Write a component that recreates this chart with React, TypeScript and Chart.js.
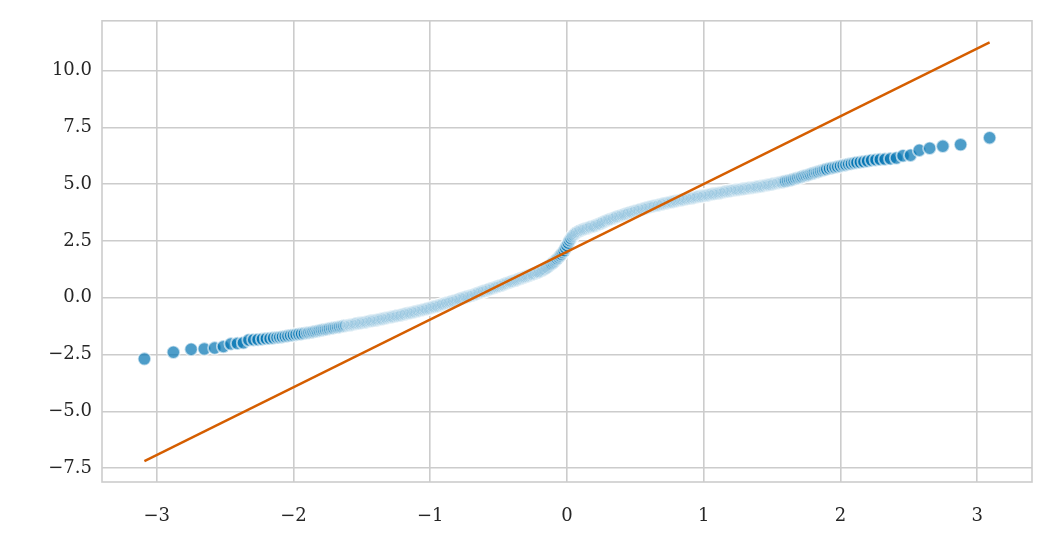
import React, { useEffect, useRef } from "react";
import { Chart, registerables } from "chart.js";

Chart.register(...registerables);

// Theoretical quantiles (x) and ordered sample values (y)
const lowTailX = [-3.09, -2.878, -2.748, -2.652, -2.576, -2.512, -2.457, -2.409, -2.366, -2.326, -2.291, -2.259, -2.227, -2.198, -2.171, -2.145];
const lowTailY = [-2.69, -2.4, -2.27, -2.25, -2.21, -2.15, -2.03, -2.01, -1.98, -1.86, -1.85, -1.84, -1.82, -1.8, -1.79, -1.77];

const lowBandX = [
  -2.12, -2.1, -2.08, -2.06, -2.04, -2.02, -2.0, -1.98, -1.96, -1.94, -1.92,
  -1.9, -1.885, -1.87, -1.855, -1.84, -1.825, -1.81, -1.795, -1.78, -1.765, -1.75, -1.735, -1.72, -1.705, -1.69, -1.675, -1.66, -1.645, -1.63, -1.615,
  -1.6, -1.59, -1.58, -1.57, -1.56, -1.55, -1.54, -1.53, -1.52, -1.51, -1.5, -1.49, -1.48, -1.47, -1.46, -1.45, -1.44, -1.43, -1.42, -1.41,
  -1.4, -1.39, -1.38, -1.37, -1.36, -1.35, -1.34, -1.33, -1.32, -1.31, -1.3, -1.29, -1.28, -1.27, -1.26, -1.25, -1.24, -1.23, -1.22, -1.21,
];
const lowBandY = [
  -1.75, -1.74, -1.72, -1.7, -1.68, -1.66, -1.64, -1.62, -1.6, -1.59, -1.57,
  -1.55, -1.535, -1.52, -1.5, -1.48, -1.465, -1.445, -1.425, -1.41, -1.395, -1.38, -1.36, -1.34, -1.325, -1.31, -1.295, -1.28, -1.26, -1.24, -1.225,
  -1.21, -1.2, -1.19, -1.18, -1.17, -1.155, -1.14, -1.13, -1.12, -1.11, -1.1, -1.09, -1.08, -1.07, -1.06, -1.045, -1.03, -1.02, -1.01, -1.0,
  -0.99, -0.98, -0.97, -0.955, -0.94, -0.93, -0.92, -0.905, -0.89, -0.88, -0.87, -0.855, -0.84, -0.83, -0.82, -0.805, -0.79, -0.78, -0.77, -0.755,
];

const midBandX = [
  -1.2, -1.19, -1.18, -1.17, -1.16, -1.15, -1.14, -1.13, -1.12, -1.11, -1.1, -1.09, -1.08, -1.07, -1.06, -1.05, -1.04, -1.03, -1.02, -1.01,
  -1.0, -0.99, -0.98, -0.97, -0.96, -0.95, -0.94, -0.93, -0.92, -0.91, -0.9, -0.89, -0.88, -0.87, -0.86, -0.85, -0.84, -0.83, -0.82, -0.81,
  -0.8, -0.79, -0.78, -0.77, -0.76, -0.75, -0.74, -0.73, -0.72, -0.71, -0.7, -0.69, -0.68, -0.67, -0.66, -0.65, -0.64, -0.63, -0.62, -0.61,
  -0.6, -0.59, -0.58, -0.57, -0.56, -0.55, -0.54, -0.53, -0.52, -0.51, -0.5, -0.49, -0.48, -0.47, -0.46, -0.45, -0.44, -0.43, -0.42, -0.41,
  -0.4, -0.39, -0.38, -0.37, -0.36, -0.35, -0.34, -0.33, -0.32, -0.31, -0.3, -0.29, -0.28, -0.27, -0.26, -0.25, -0.24, -0.23, -0.22, -0.21,
  -0.2, -0.19, -0.18, -0.17, -0.16, -0.15, -0.14, -0.13, -0.12, -0.11, -0.1, -0.09, -0.08, -0.07, -0.06, -0.05, -0.04, -0.03, -0.02, -0.01,
  0.0, 0.01, 0.02, 0.03, 0.04, 0.05, 0.06, 0.07, 0.08, 0.09, 0.1, 0.11, 0.12, 0.13, 0.14, 0.15, 0.16, 0.17, 0.18, 0.19,
  0.2, 0.21, 0.22, 0.23, 0.24, 0.25, 0.26, 0.27, 0.28, 0.29, 0.3, 0.31, 0.32, 0.33, 0.34, 0.35, 0.36, 0.37, 0.38, 0.39,
  0.4, 0.41, 0.42, 0.43, 0.44, 0.45, 0.46, 0.47, 0.48, 0.49, 0.5, 0.51, 0.52, 0.53, 0.54, 0.55, 0.56, 0.57, 0.58, 0.59,
  0.6, 0.61, 0.62, 0.63, 0.64, 0.65, 0.66, 0.67, 0.68, 0.69, 0.7, 0.71, 0.72, 0.73, 0.74, 0.75, 0.76, 0.77, 0.78, 0.79,
  0.8, 0.81, 0.82, 0.83, 0.84, 0.85, 0.86, 0.87, 0.88, 0.89, 0.9, 0.91, 0.92, 0.93, 0.94, 0.95, 0.96, 0.97, 0.98, 0.99,
  1.0, 1.01, 1.02, 1.03, 1.04, 1.05, 1.06, 1.07, 1.08, 1.09, 1.1, 1.11, 1.12, 1.13, 1.14, 1.15, 1.16, 1.17, 1.18, 1.19,
  1.2,
];
const midBandY = [
  -0.74, -0.725, -0.71, -0.695, -0.68, -0.67, -0.66, -0.645, -0.63, -0.615, -0.6, -0.585, -0.57, -0.555, -0.54, -0.525, -0.51, -0.495, -0.48, -0.465,
  -0.45, -0.43, -0.41, -0.395, -0.38, -0.365, -0.35, -0.33, -0.31, -0.29, -0.27, -0.25, -0.23, -0.215, -0.2, -0.18, -0.16, -0.145, -0.13, -0.11,
  -0.09, -0.07, -0.05, -0.03, -0.01, 0.01, 0.03, 0.045, 0.06, 0.08, 0.1, 0.12, 0.14, 0.16, 0.18, 0.205, 0.23, 0.25, 0.27, 0.29,
  0.31, 0.33, 0.35, 0.37, 0.39, 0.41, 0.43, 0.45, 0.47, 0.49, 0.51, 0.53, 0.55, 0.57, 0.59, 0.615, 0.64, 0.66, 0.68, 0.7,
  0.72, 0.74, 0.76, 0.78, 0.8, 0.825, 0.85, 0.87, 0.89, 0.91, 0.93, 0.95, 0.97, 0.995, 1.02, 1.04, 1.06, 1.085, 1.11, 1.13,
  1.15, 1.18, 1.21, 1.245, 1.28, 1.32, 1.36, 1.405, 1.45, 1.5, 1.55, 1.605, 1.66, 1.72, 1.78, 1.85, 1.92, 2.0, 2.08, 2.19,
  2.3, 2.41, 2.52, 2.61, 2.7, 2.76, 2.82, 2.86, 2.9, 2.93, 2.96, 2.985, 3.01, 3.03, 3.05, 3.07, 3.09, 3.11, 3.13, 3.145,
  3.16, 3.185, 3.21, 3.235, 3.26, 3.285, 3.31, 3.34, 3.37, 3.395, 3.42, 3.44, 3.46, 3.48, 3.5, 3.525, 3.55, 3.57, 3.59, 3.61,
  3.63, 3.65, 3.67, 3.69, 3.71, 3.73, 3.75, 3.765, 3.78, 3.8, 3.82, 3.835, 3.85, 3.87, 3.89, 3.905, 3.92, 3.94, 3.96, 3.975,
  3.99, 4.005, 4.02, 4.035, 4.05, 4.06, 4.07, 4.085, 4.1, 4.115, 4.13, 4.145, 4.16, 4.17, 4.18, 4.195, 4.21, 4.22, 4.23, 4.245,
  4.26, 4.27, 4.28, 4.295, 4.31, 4.32, 4.33, 4.345, 4.36, 4.37, 4.38, 4.39, 4.4, 4.41, 4.42, 4.435, 4.45, 4.46, 4.47, 4.48,
  4.49, 4.5, 4.51, 4.52, 4.53, 4.545, 4.56, 4.57, 4.58, 4.59, 4.6, 4.61, 4.62, 4.63, 4.64, 4.655, 4.67, 4.68, 4.69, 4.7,
  4.71,
];

const highBandX = [
  1.21, 1.22, 1.23, 1.24, 1.25, 1.26, 1.27, 1.28, 1.29, 1.3, 1.31, 1.32, 1.33, 1.34, 1.35, 1.36, 1.37, 1.38, 1.39, 1.4,
  1.41, 1.42, 1.43, 1.44, 1.45, 1.46, 1.47, 1.48, 1.49, 1.5, 1.51, 1.52, 1.53, 1.54, 1.55, 1.56, 1.57, 1.58, 1.59, 1.6,
  1.615, 1.63, 1.645, 1.66, 1.675, 1.69, 1.705, 1.72, 1.735, 1.75, 1.765, 1.78, 1.795, 1.81, 1.825, 1.84, 1.855, 1.87, 1.885, 1.9,
  1.92, 1.94, 1.96, 1.98, 2.0, 2.02, 2.04, 2.06, 2.08, 2.1, 2.12,
];
const highBandY = [
  4.72, 4.73, 4.74, 4.75, 4.755, 4.76, 4.77, 4.78, 4.79, 4.8, 4.81, 4.82, 4.83, 4.84, 4.845, 4.85, 4.86, 4.87, 4.88, 4.89,
  4.9, 4.91, 4.92, 4.93, 4.945, 4.96, 4.97, 4.98, 4.99, 5.0, 5.015, 5.03, 5.04, 5.05, 5.065, 5.08, 5.09, 5.1, 5.115, 5.13,
  5.15, 5.17, 5.195, 5.22, 5.25, 5.275, 5.3, 5.33, 5.36, 5.385, 5.41, 5.44, 5.47, 5.5, 5.525, 5.55, 5.58, 5.605, 5.635, 5.66,
  5.69, 5.72, 5.74, 5.77, 5.8, 5.83, 5.85, 5.88, 5.9, 5.93, 5.95,
];

const highTailX = [2.145, 2.171, 2.198, 2.227, 2.259, 2.291, 2.326, 2.366, 2.409, 2.457, 2.512, 2.576, 2.652, 2.748, 2.878, 3.09];
const highTailY = [5.97, 5.99, 6.02, 6.05, 6.07, 6.09, 6.1, 6.12, 6.15, 6.25, 6.27, 6.49, 6.58, 6.67, 6.74, 7.04];

// Reference (fitted) line end points
const refLineX = [-3.09, 3.09];
const refLineY = [-7.19, 11.24];

// Axis ticks
const xTickValues = [-3, -2, -1, 0, 1, 2, 3];
const xTickLabels = ["\u22123", "\u22122", "\u22121", "0", "1", "2", "3"];
const yTickValues = [-7.5, -5, -2.5, 0, 2.5, 5, 7.5, 10];
const yTickLabels = ["\u22127.5", "\u22125.0", "\u22122.5", "0.0", "2.5", "5.0", "7.5", "10.0"];

const GRID = "#cccccc";
const TEXT = "#262626";
const FONT = "'DejaVu Serif', serif";

function pairs(xs: number[], ys: number[]) {
  return xs.map((x, i) => ({ x, y: ys[i] }));
}

const framePlugin = {
  id: "frame",
  afterDraw(chart: any) {
    const { ctx, chartArea } = chart;
    ctx.save();
    ctx.strokeStyle = GRID;
    ctx.lineWidth = 1.6;
    ctx.strokeRect(chartArea.left, chartArea.top, chartArea.right - chartArea.left, chartArea.bottom - chartArea.top);
    ctx.restore();
  },
};

export default function App() {
  const ref = useRef<HTMLCanvasElement | null>(null);

  useEffect(() => {
    if (!ref.current) return;
    const points = [
      ...pairs(lowTailX, lowTailY),
      ...pairs(lowBandX, lowBandY),
      ...pairs(midBandX, midBandY),
      ...pairs(highBandX, highBandY),
      ...pairs(highTailX, highTailY),
    ];
    const chart = new Chart(ref.current, {
      type: "scatter",
      data: {
        datasets: [
          {
            label: "line",
            data: pairs(refLineX, refLineY),
            showLine: true,
            borderColor: "#d55e00",
            borderWidth: 2.4,
            pointRadius: 0,
            order: 0,
          } as any,
          {
            label: "quantiles",
            data: points,
            backgroundColor: "rgba(1,115,178,0.7)",
            borderColor: "rgba(255,255,255,0.6)",
            borderWidth: 1.8,
            pointRadius: 6.6,
            order: 1,
          } as any,
        ],
      },
      options: {
        responsive: false,
        animation: false,
        devicePixelRatio: 1,
        layout: { padding: { left: 0, top: 19, right: 20, bottom: 0 } },
        plugins: { legend: { display: false }, tooltip: { enabled: false } },
        scales: {
          x: {
            type: "linear",
            min: -3.4,
            max: 3.4,
            afterBuildTicks: (s: any) => {
              s.ticks = xTickValues.map((v) => ({ value: v }));
            },
            afterFit: (s: any) => {
              s.height = 66;
            },
            grid: { color: GRID, lineWidth: 1.6, drawTicks: false },
            border: { display: false },
            ticks: {
              color: TEXT,
              font: { family: FONT, size: 18 },
              padding: 24,
              maxRotation: 0,
              callback: (v: any) => xTickLabels[xTickValues.indexOf(Number(v))] ?? "",
            },
          },
          y: {
            type: "linear",
            min: -8.11,
            max: 12.19,
            afterBuildTicks: (s: any) => {
              s.ticks = yTickValues.map((v) => ({ value: v }));
            },
            afterFit: (s: any) => {
              s.width = 102;
            },
            grid: { color: GRID, lineWidth: 1.6, drawTicks: false },
            border: { display: false },
            ticks: {
              color: TEXT,
              font: { family: FONT, size: 18 },
              padding: 10,
              callback: (v: any) => yTickLabels[yTickValues.indexOf(Number(v))] ?? "",
            },
          },
        },
      },
      plugins: [framePlugin],
    });
    return () => chart.destroy();
  }, []);

  return (
    <div style={{ position: "absolute", left: 0, top: 0, width: 1052, height: 548, background: "#fff" }}>
      <canvas ref={ref} width={1052} height={548} />
    </div>
  );
}
